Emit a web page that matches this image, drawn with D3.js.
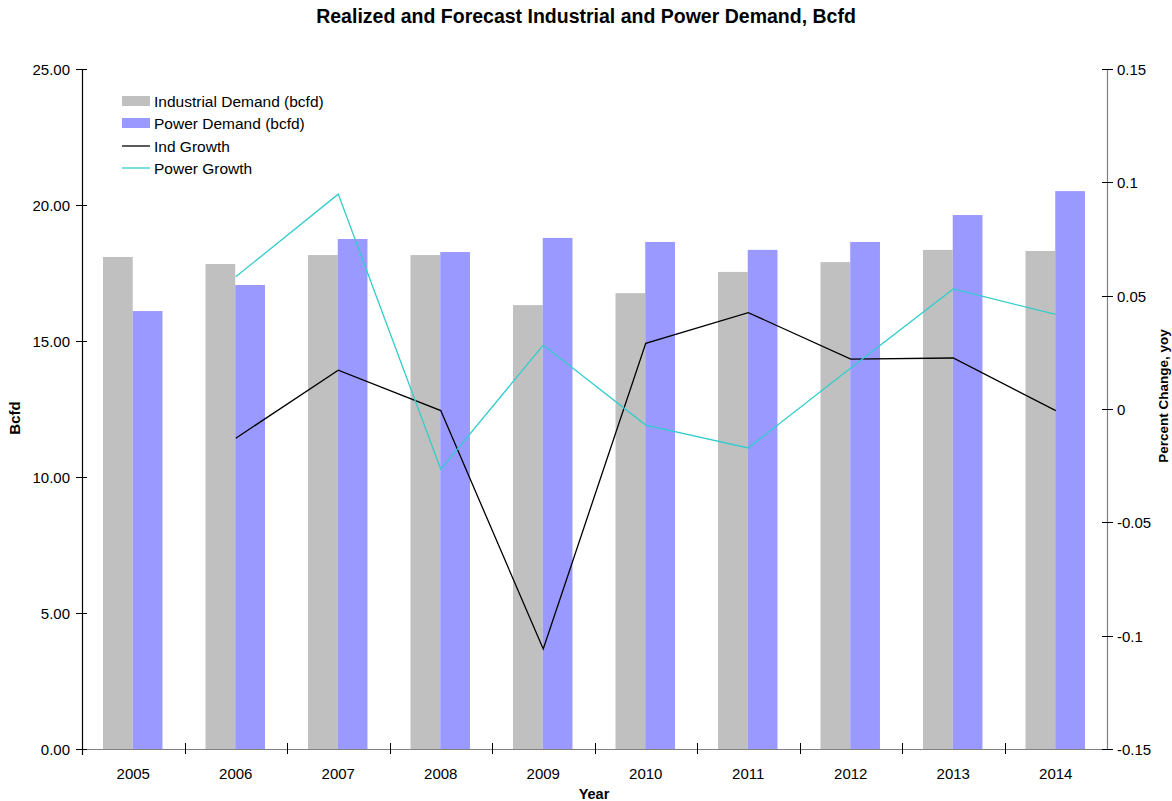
<!DOCTYPE html>
<html><head><meta charset="utf-8">
<script src="https://cdn.jsdelivr.net/npm/d3@7"></script>
<style>body{margin:0;background:#fff;} text{font-family:"Liberation Sans",Arial,sans-serif;}</style>
</head><body><svg id="c" width="1172" height="801"></svg>
<script>
const years = ["2005","2006","2007","2008","2009","2010","2011","2012","2013","2014"];
const industrial = [18.09,17.83,18.16,18.16,16.32,16.76,17.54,17.90,18.35,18.31];
const power = [16.10,17.06,18.75,18.27,18.79,18.64,18.35,18.64,19.63,20.51];
const indGrowth = [null,-0.0129,0.0171,-0.0007,-0.1059,0.0290,0.0425,0.0220,0.0225,-0.0007];
const powerGrowth = [null,0.0583,0.0948,-0.0266,0.0282,-0.0071,-0.0172,0.0181,0.0530,0.0417];
const leftTicks = [0,5,10,15,20,25];
const rightTicks = [-0.15,-0.1,-0.05,0,0.05,0.1,0.15];
const seriesNames = ["Industrial Demand (bcfd)","Power Demand (bcfd)","Ind Growth","Power Growth"];
const colors = {ind:"#C0C0C0", pow:"#9999FF", indLine:"#000000", powLine:"#33CCCC"};

const svg = d3.select("#c");
const L=82, R=1107, T=69, B=749;
const x = d3.scaleBand().domain(years).range([L,R]).paddingInner(0).paddingOuter(0);
const yL = d3.scaleLinear().domain([0,25]).range([B,T]);
const yR = d3.scaleLinear().domain([-0.15,0.15]).range([B,T]);
const bw = x.bandwidth();
const inner = d3.scaleBand().domain(["ind","pow"]).range([bw*0.205, bw*0.785]);

// bars
const g = svg.append("g");
years.forEach((yr,i)=>{
  g.append("rect").attr("x",x(yr)+inner("ind")).attr("width",inner.bandwidth())
   .attr("y",yL(industrial[i])).attr("height",B-yL(industrial[i])).attr("fill",colors.ind);
  g.append("rect").attr("x",x(yr)+inner("pow")).attr("width",inner.bandwidth())
   .attr("y",yL(power[i])).attr("height",B-yL(power[i])).attr("fill",colors.pow);
});

// lines
const line = d3.line().defined(d=>d.v!=null).x(d=>x(d.yr)+bw/2).y(d=>yR(d.v));
svg.append("path").datum(years.map((yr,i)=>({yr,v:indGrowth[i]})))
  .attr("d",line).attr("fill","none").attr("stroke",colors.indLine).attr("stroke-width",1.3);
svg.append("path").datum(years.map((yr,i)=>({yr,v:powerGrowth[i]})))
  .attr("d",line).attr("fill","none").attr("stroke",colors.powLine).attr("stroke-width",1.3);

// bottom axis
svg.append("line").attr("x1",L).attr("x2",R+6).attr("y1",B+0.5).attr("y2",B+0.5).attr("stroke","#808080").attr("stroke-width",1.2);
years.forEach((yr,i)=>{
  if(i>0){
    const xx=Math.round(x(yr))+0.5;
    svg.append("line").attr("x1",xx).attr("x2",xx).attr("y1",B-6).attr("y2",B+5).attr("stroke","#000");
  }
  svg.append("text").attr("x",x(yr)+bw/2).attr("y",779).attr("text-anchor","middle")
    .attr("font-size",15).text(yr);
});
svg.append("text").attr("x",594).attr("y",799).attr("text-anchor","middle").attr("font-size",14.5).attr("font-weight","bold").text("Year");

// left axis
svg.append("line").attr("x1",L+0.5).attr("x2",L+0.5).attr("y1",T).attr("y2",B+6).attr("stroke","#000").attr("stroke-width",1.2);
leftTicks.forEach(t=>{
  const yy=Math.round(yL(t))+0.5;
  svg.append("line").attr("x1",L-6).attr("x2",L+5).attr("y1",yy).attr("y2",yy).attr("stroke","#000");
  svg.append("text").attr("x",70).attr("y",yy+5.5).attr("text-anchor","end").attr("font-size",15).text(d3.format(".2f")(t));
});
svg.append("text").attr("transform","translate(20,418) rotate(-90)").attr("text-anchor","middle")
  .attr("font-size",15).attr("font-weight","bold").text("Bcfd");

// right axis
svg.append("line").attr("x1",R+0.5).attr("x2",R+0.5).attr("y1",T).attr("y2",B).attr("stroke","#808080").attr("stroke-width",1.2);
rightTicks.forEach(t=>{
  const yy=Math.round(yR(t))+0.5;
  svg.append("line").attr("x1",R-5).attr("x2",R+6).attr("y1",yy).attr("y2",yy).attr("stroke","#000");
  svg.append("text").attr("x",1117).attr("y",yy+5.5).attr("text-anchor","start").attr("font-size",15).text(String(+t.toFixed(2)));
});
svg.append("text").attr("transform","translate(1168,396) rotate(-90)").attr("text-anchor","middle")
  .attr("font-size",13.5).attr("font-weight","bold").text("Percent Change, yoy");

// title
svg.append("text").attr("x",586).attr("y",23).attr("text-anchor","middle").attr("font-size",19.5).attr("font-weight","bold")
  .text("Realized and Forecast Industrial and Power Demand, Bcfd");

// legend
const lg = svg.append("g");
const rowsY=[101,123,146,168];
lg.append("rect").attr("x",122).attr("y",rowsY[0]-5).attr("width",28).attr("height",10).attr("fill",colors.ind);
lg.append("rect").attr("x",122).attr("y",rowsY[1]-5).attr("width",28).attr("height",10).attr("fill",colors.pow);
lg.append("line").attr("x1",122).attr("x2",150).attr("y1",rowsY[2]).attr("y2",rowsY[2]).attr("stroke",colors.indLine).attr("stroke-width",1.3);
lg.append("line").attr("x1",122).attr("x2",150).attr("y1",rowsY[3]).attr("y2",rowsY[3]).attr("stroke",colors.powLine).attr("stroke-width",1.3);
seriesNames.forEach((n,i)=>{
  lg.append("text").attr("x",154).attr("y",rowsY[i]+5.5).attr("font-size",15.5).text(n);
});
</script></body></html>
